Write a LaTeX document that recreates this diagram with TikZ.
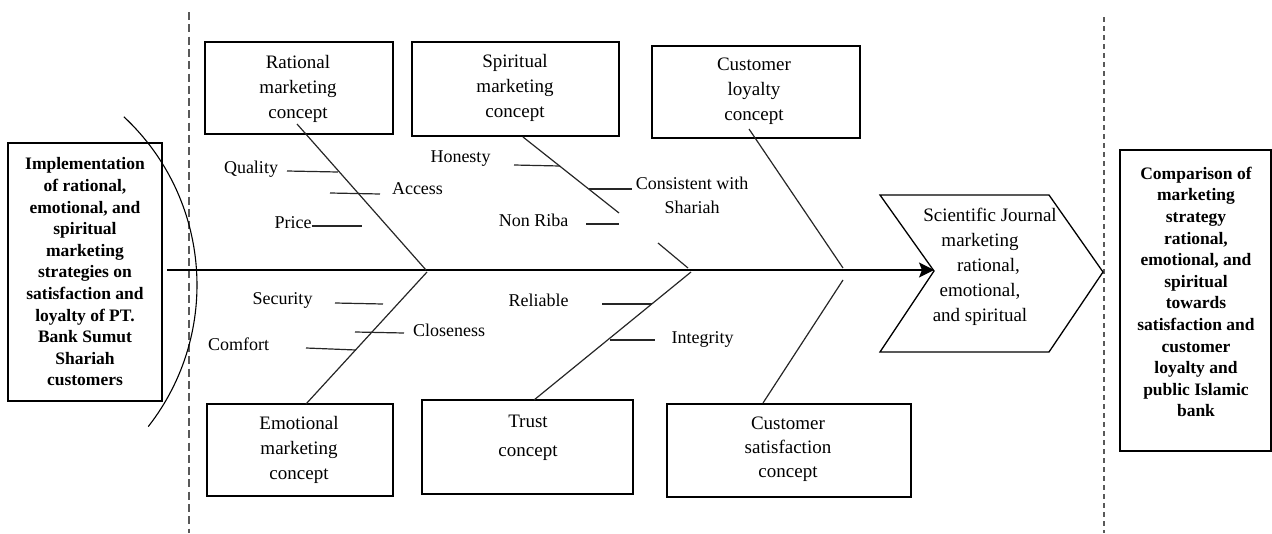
\documentclass[tikz,border=0pt]{standalone}
\usepackage{fontspec}
\setmainfont{Liberation Serif}
\usetikzlibrary{arrows.meta}
\begin{document}
\begin{tikzpicture}[x=1pt,y=-1pt,
  box/.style={draw, line width=1.3pt, inner sep=0pt},
  bone/.style={line width=1.2pt, draw=black!85},
  rib/.style={line width=1.2pt, draw=black!85},
  lbl/.style={font=\fontsize{18}{24}\selectfont, inner sep=0pt, align=center},
  btxt/.style={font=\fontsize{19}{25}\selectfont, align=center, inner sep=0pt},
  boldtxt/.style={font=\fontsize{17.5}{21.6}\selectfont\bfseries, align=center, inner sep=0pt},
  sep/.style={draw=black!65, line width=1.2pt}
]
\useasboundingbox (0,0) rectangle (1272,533);

% separators
\coordinate (dl0) at (189,12);  \coordinate (dl1) at (189,533);
\coordinate (dr0) at (1104,17); \coordinate (dr1) at (1104,533);
\draw[sep, dash pattern=on 8pt off 4.3pt] (dl0) -- (dl1);
\draw[sep, dash pattern=on 5pt off 4pt] (dr0) -- (dr1);

% left and right boxes
\node[box, minimum width=154, minimum height=258] (left) at (85,272) {};
\node[boldtxt] (leftt) at (85,272) {Implementation\\of rational,\\emotional, and\\spiritual\\marketing\\strategies on\\satisfaction and\\loyalty of PT.\\Bank Sumut\\Shariah\\customers};
\node[box, minimum width=151, minimum height=301] (right) at (1195.5,300.5) {};
\node[boldtxt] (rightt) at (1196,292) {Comparison of\\marketing\\strategy\\rational,\\emotional, and\\spiritual\\towards\\satisfaction and\\customer\\loyalty and\\public Islamic\\bank};

% arc (fish head)
\draw[line width=1.1pt] (-33,285) ++(-47:230) arc[start angle=-47,end angle=38,radius=230];

% concept boxes
\node[box, minimum width=188, minimum height=92] (rat) at (299,88) {};
\node[btxt] (ratt) at (298,88.5) {Rational\\marketing\\concept};
\node[box, minimum width=207, minimum height=94] (spi) at (515.5,89) {};
\node[btxt] (spit) at (515,88) {Spiritual\\marketing\\concept};
\node[box, minimum width=208, minimum height=92] (loy) at (756,92) {};
\node[btxt] (loyt) at (754,91) {Customer\\loyalty\\concept};
\node[box, minimum width=186, minimum height=92] (emo) at (300,450) {};
\node[btxt] (emot) at (299,449.5) {Emotional\\marketing\\concept};
\node[box, minimum width=211, minimum height=94] (tru) at (527.5,447) {};
\node[btxt, font=\fontsize{19}{29}\selectfont] (trut) at (528,437.5) {Trust\\concept};
\node[box, minimum width=244, minimum height=93] (sat) at (789,450.5) {};
\node[btxt, font=\fontsize{19}{24}\selectfont] (satt) at (788,449.5) {Customer\\satisfaction\\concept};

% chevron
\coordinate (c1) at (880,195); \coordinate (c2) at (1049,195);
\coordinate (c3) at (1103,272); \coordinate (c4) at (1049,352);
\coordinate (c5) at (880,352); \coordinate (notch) at (934,271);
\draw[line width=1.3pt, line join=miter] (c1) -- (c2) -- (c3) -- (c4) -- (c5) -- (notch) -- cycle;
\node[btxt] (sj) at (980,267) {\hspace*{20pt}Scientific Journal\\marketing\\\hspace*{17pt}rational,\\emotional,\\and spiritual};

% spine
\coordinate (sp0) at (167,270);
\coordinate (tip) at (934,270);
\draw[line width=1.4pt, -{Stealth[length=15pt,width=15pt,inset=3pt]}] (sp0) -- (tip);

% bones
\coordinate (ratb) at (297,124);  \coordinate (j1) at (426,270);
\coordinate (j1b) at (427,272);   \coordinate (emob) at (306,404);
\coordinate (spib) at (523,137);  \coordinate (spim) at (619,213);
\coordinate (spin) at (658,243);  \coordinate (j2) at (688,268);
\coordinate (j2b) at (691,272);   \coordinate (trub) at (534,400);
\coordinate (loyb) at (749,129);  \coordinate (j3) at (843,268);
\coordinate (j3b) at (843,280);   \coordinate (satb) at (763,403);
\draw[bone] (ratb) -- (j1);
\draw[bone] (j1b) -- (emob);
\draw[bone] (spib) -- (spim);
\draw[bone] (spin) -- (j2);
\draw[bone] (j2b) -- (trub);
\draw[bone] (loyb) -- (j3);
\draw[bone] (j3b) -- (satb);

% labels
\node[lbl] (qual) at (251,169) {Quality};
\node[lbl] (acc) at (417.5,189) {Access};
\node[lbl] (pri) at (293,223) {Price};
\node[lbl] (hon) at (460.5,159) {Honesty};
\node[lbl] (cons) at (692,195) {Consistent with\\Shariah};
\node[lbl] (nri) at (533.5,220) {Non Riba};
\node[lbl] (secu) at (282.5,300) {Security};
\node[lbl] (clo) at (449,330) {Closeness};
\node[lbl] (comf) at (238.5,344) {Comfort};
\node[lbl] (rel) at (538.5,300) {Reliable};
\node[lbl] (integ) at (702.5,339) {Integrity};

% ribs
\coordinate (r1a) at (287,171); \coordinate (r1b) at (338,172);
\coordinate (r2a) at (330,193); \coordinate (r2b) at (380,194);
\coordinate (r3a) at (312,226); \coordinate (r3b) at (362,226);
\coordinate (r4a) at (514,165); \coordinate (r4b) at (560,166);
\coordinate (r5a) at (589,189); \coordinate (r5b) at (632,189);
\coordinate (r6a) at (586,224); \coordinate (r6b) at (619,224);
\coordinate (r7a) at (335,303); \coordinate (r7b) at (383,304);
\coordinate (r8a) at (355,332); \coordinate (r8b) at (404,333);
\coordinate (r9a) at (306,348); \coordinate (r9b) at (356,350);
\coordinate (r10a) at (602,304); \coordinate (r10b) at (652,304);
\coordinate (r11a) at (610,340); \coordinate (r11b) at (655,340);
\foreach \i in {1,...,11} { \draw[rib] (r\i a) -- (r\i b); }
\end{tikzpicture}
\end{document}
